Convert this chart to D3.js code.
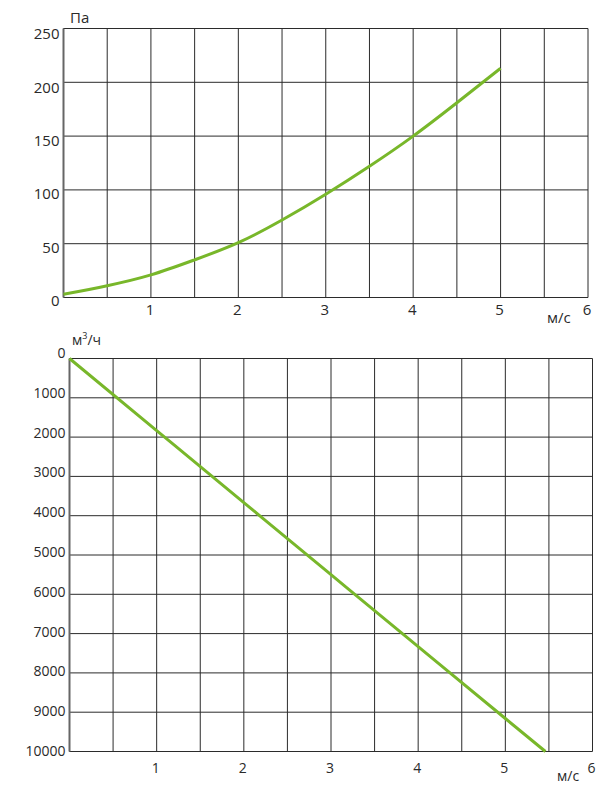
<!DOCTYPE html>
<html><head><meta charset="utf-8">
<script src="https://cdn.jsdelivr.net/npm/d3@7"></script>
<style>body{margin:0;background:#fff}text{font-family:"Open Sans",sans-serif;fill:#2a2a2a}</style>
</head><body>
<script>
// Top chart: pressure drop vs velocity
const speedTop = [0, 0.5, 1, 1.5, 2, 2.5, 3, 3.5, 4, 4.5, 5];
const pressure = [3, 11, 21, 35, 51, 72, 96, 122, 150, 181, 213];
const topYTicks = [0, 50, 100, 150, 200, 250];
// Bottom chart: air flow vs velocity
const speedBottom = [0, 1, 2, 3, 4, 5, 5.46];
const flow = [0, 1833, 3666, 5500, 7330, 9160, 10000];
const bottomYTicks = [0,1000,2000,3000,4000,5000,6000,7000,8000,9000,10000];
const xTicks = [1,2,3,4,5,6];
const xGrid = d3.range(0, 6.01, 0.5);

const W = 613, H = 800;
const svg = d3.select("body").append("svg").attr("width", W).attr("height", H);
const green = "#78b72a", gridc = "#2b2b2b";

function chart(o){
  const x = d3.scaleLinear().domain([0,6]).range([o.l, o.r]);
  const y = d3.scaleLinear().domain(o.ydom).range(o.yrange);
  const g = svg.append("g");
  g.selectAll(".v").data(xGrid).join("line")
    .attr("x1", d=>x(d)).attr("x2", d=>x(d)).attr("y1", o.top).attr("y2", o.bot)
    .attr("stroke", gridc).attr("stroke-width", 1);
  g.selectAll(".h").data(o.yticks).join("line")
    .attr("x1", o.l).attr("x2", o.r).attr("y1", d=>y(d)).attr("y2", d=>y(d))
    .attr("stroke", gridc).attr("stroke-width", 1);
  g.append("line").attr("x1", o.l).attr("x2", o.l).attr("y1", o.top).attr("y2", o.bot)
    .attr("stroke", "#666").attr("stroke-width", 2);
  const ly = d3.scaleLinear().domain(o.ydom).range(o.labelRange);
  g.selectAll(".yl").data(o.yticks).join("text")
    .attr("x", o.l - 4).attr("y", d=>ly(d)).attr("dy", "0.35em")
    .attr("text-anchor", "end").attr("font-size", o.fs).text(d=>d);
  g.selectAll(".xl").data(xTicks).join("text")
    .attr("x", d=>x(d) - 1).attr("y", o.xlabY).attr("dy", "0.35em")
    .attr("text-anchor", "middle").attr("font-size", o.fs).text(d=>d);
  g.append("text").attr("x", o.unitX).attr("y", o.xlabY + 8).attr("dy","0.35em")
    .attr("font-size", o.fs).text("м/с");
  const line = d3.line().x(d=>x(d[0])).y(d=>y(d[1])).curve(d3.curveNatural);
  g.append("path").datum(o.xs.map((v,i)=>[v,o.ys[i]]))
    .attr("d", line).attr("fill","none").attr("stroke", green).attr("stroke-width", 3);
  return g;
}

chart({l:63.5, r:588, top:28.5, bot:297.5, ydom:[0,250], yrange:[297.5,28.5],
  yticks: topYTicks, labelRange:[301,34], fs:15, xlabY:310, unitX:547,
  xs: speedTop, ys: pressure});
svg.append("text").attr("x",70).attr("y",23).attr("font-size",15).text("Па");

chart({l:69.5, r:592.5, top:358.5, bot:751.5, ydom:[0,10000], yrange:[358.5,751.5],
  yticks: bottomYTicks, labelRange:[353,751], fs:14, xlabY:768, unitX:557,
  xs: speedBottom, ys: flow});
const t = svg.append("text").attr("x",72).attr("y",345).attr("font-size",14);
t.append("tspan").text("м");
t.append("tspan").attr("font-size",9).attr("dy",-6).text("3");
t.append("tspan").attr("dy",6).text("/ч");
</script>
</body></html>
